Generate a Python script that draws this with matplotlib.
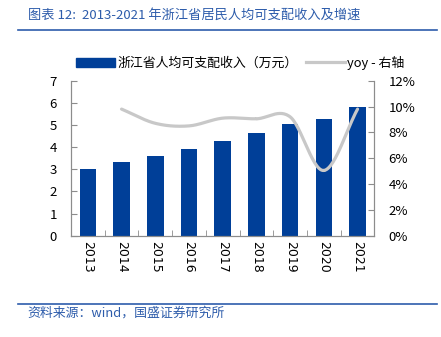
import numpy as np
import matplotlib
matplotlib.use("Agg")
import matplotlib.pyplot as plt
from matplotlib.lines import Line2D

plt.rcParams['font.family'] = ['Noto Sans CJK SC', 'DejaVu Sans']

# 数据
years = ['2013', '2014', '2015', '2016', '2017', '2018', '2019', '2020', '2021']
income = [3.03, 3.34, 3.62, 3.92, 4.26, 4.65, 5.05, 5.29, 5.83]  # 万元
yoy = [np.nan, 9.8, 8.7, 8.5, 9.1, 9.05, 9.2, 5.05, 9.8]  # %

title_txt = '图表 12:  2013-2021 年浙江省居民人均可支配收入及增速'
source_txt = '资料来源：wind，国盛证券研究所'
bar_label = '浙江省人均可支配收入（万元）'
line_label = 'yoy - 右轴'

blue = '#003f98'
txt_blue = '#2d5cab'
gray = '#c8c8c8'
spine_c = '#8c8c8c'


def smooth(xs, ys, n=30):
    """Catmull-Rom 平滑, 类似 Excel 的平滑线"""
    xs = np.asarray(xs, float)
    ys = np.asarray(ys, float)
    px = np.concatenate([[2 * xs[0] - xs[1]], xs, [2 * xs[-1] - xs[-2]]])
    py = np.concatenate([[2 * ys[0] - ys[1]], ys, [2 * ys[-1] - ys[-2]]])
    outx, outy = [], []
    t = np.linspace(0, 1, n)
    for i in range(1, len(px) - 2):
        for p, out in ((px, outx), (py, outy)):
            p0, p1, p2, p3 = p[i - 1], p[i], p[i + 1], p[i + 2]
            out.extend(0.5 * ((2 * p1) + (-p0 + p2) * t +
                              (2 * p0 - 5 * p1 + 4 * p2 - p3) * t ** 2 +
                              (-p0 + 3 * p1 - 3 * p2 + p3) * t ** 3))
    return np.array(outx), np.array(outy)


fig = plt.figure(figsize=(4.41, 3.37), dpi=100)
ax = fig.add_axes([0.161, 0.3006, 0.688, 0.46])
ax2 = ax.twinx()

x = np.arange(len(years))
ax.bar(x, income, width=0.49, color=blue, zorder=2)
ax.set_xlim(-0.5, len(years) - 0.5)
ax.set_ylim(0, 7)
ax.set_yticks(range(0, 8))
ax.set_xticks(x)
ax.set_xticklabels(years, rotation=270, fontsize=9, family='DejaVu Sans')
ax.set_xticks(np.arange(-0.5, len(years)), minor=True)
ax.tick_params(axis='x', which='major', length=0, pad=4)
ax.tick_params(axis='x', which='minor', length=4, direction='in', color=spine_c)
ax.tick_params(axis='y', length=4, direction='in', color=spine_c, labelsize=9.5, pad=10)

xm = x[1:]
ym = np.array(yoy[1:])
sx, sy = smooth(xm, ym)
ax2.plot(sx, sy, color=gray, lw=2.3, solid_capstyle='round', zorder=3)
ax2.set_ylim(0, 12)
ax2.set_yticks(range(0, 13, 2))
ax2.set_yticklabels([f'{v}%' for v in range(0, 13, 2)])
ax2.tick_params(axis='y', length=4, direction='in', color=spine_c, labelsize=9.5, pad=10)

for a in (ax, ax2):
    a.spines['top'].set_visible(False)
    for s in ('left', 'right', 'bottom'):
        a.spines[s].set_color(spine_c)
        a.spines[s].set_linewidth(0.8)

handles = [plt.Rectangle((0, 0), 1, 1, color=blue),
           Line2D([0], [0], color=gray, lw=2.3)]
fig.legend(handles, [bar_label, line_label], loc='center', ncol=2,
           bbox_to_anchor=(0.545, 0.813), frameon=False, fontsize=9.3,
           handlelength=3.0, handleheight=0.8, handletextpad=0.15,
           columnspacing=0.7)

fig.text(0.063, 0.955, title_txt, color=txt_blue, fontsize=9.5,
         style='italic', va='center', ha='left')
fig.add_artist(Line2D([0.041, 0.991], [0.912, 0.912], color=txt_blue, lw=1.2))
fig.add_artist(Line2D([0.041, 0.991], [0.097, 0.097], color=txt_blue, lw=1.2))
fig.text(0.063, 0.07, source_txt, color=txt_blue, fontsize=9.3,
         style='italic', va='center', ha='left')

fig.savefig('out.png', dpi=100)
